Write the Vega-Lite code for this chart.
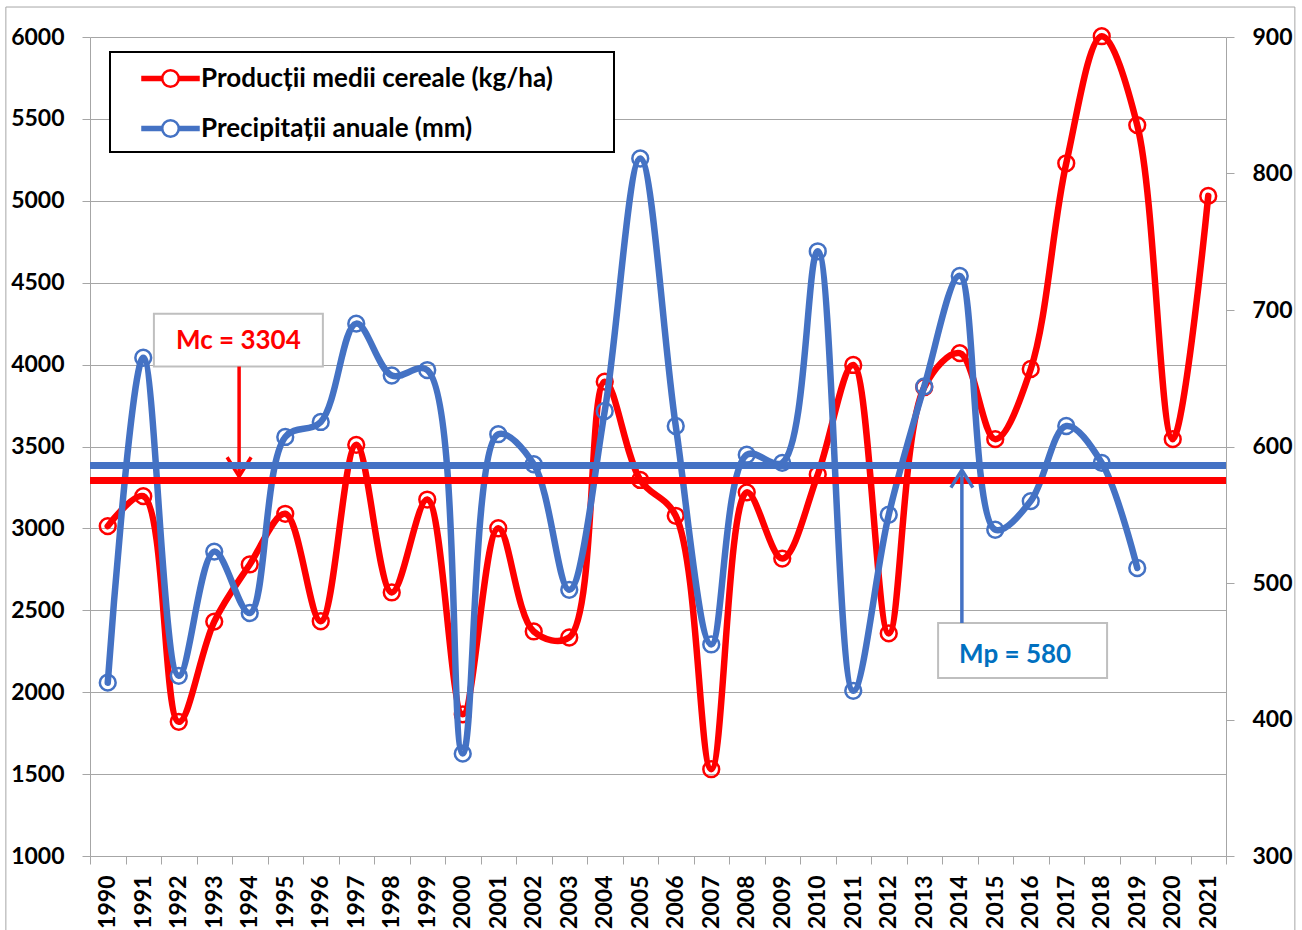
{
  "$schema": "https://vega.github.io/schema/vega-lite/v6.json",
  "width": 1136,
  "height": 819,
  "autosize": {"type": "none"},
  "padding": {"left": 90, "top": 37, "right": 76, "bottom": 74},
  "background": "white",
  "config": {
    "font": "Lato",
    "view": {"stroke": null},
    "axis": {
      "labelFont": "Lato",
      "labelFontWeight": "bold",
      "labelFontSize": 23,
      "labelColor": "black",
      "domainColor": "#a6a6a6",
      "tickColor": "#a6a6a6",
      "gridColor": "#a6a6a6",
      "tickSize": 8
    }
  },
  "datasets": {
    "production": [
      {"year": 1990, "series": "Producții medii cereale (kg/ha)", "value": 3014},
      {"year": 1991, "series": "Producții medii cereale (kg/ha)", "value": 3197},
      {"year": 1992, "series": "Producții medii cereale (kg/ha)", "value": 1819},
      {"year": 1993, "series": "Producții medii cereale (kg/ha)", "value": 2431},
      {"year": 1994, "series": "Producții medii cereale (kg/ha)", "value": 2780},
      {"year": 1995, "series": "Producții medii cereale (kg/ha)", "value": 3089},
      {"year": 1996, "series": "Producții medii cereale (kg/ha)", "value": 2433},
      {"year": 1997, "series": "Producții medii cereale (kg/ha)", "value": 3510},
      {"year": 1998, "series": "Producții medii cereale (kg/ha)", "value": 2609},
      {"year": 1999, "series": "Producții medii cereale (kg/ha)", "value": 3176},
      {"year": 2000, "series": "Producții medii cereale (kg/ha)", "value": 1865},
      {"year": 2001, "series": "Producții medii cereale (kg/ha)", "value": 3001},
      {"year": 2002, "series": "Producții medii cereale (kg/ha)", "value": 2371},
      {"year": 2003, "series": "Producții medii cereale (kg/ha)", "value": 2334},
      {"year": 2004, "series": "Producții medii cereale (kg/ha)", "value": 3896},
      {"year": 2005, "series": "Producții medii cereale (kg/ha)", "value": 3296},
      {"year": 2006, "series": "Producții medii cereale (kg/ha)", "value": 3077},
      {"year": 2007, "series": "Producții medii cereale (kg/ha)", "value": 1530},
      {"year": 2008, "series": "Producții medii cereale (kg/ha)", "value": 3220},
      {"year": 2009, "series": "Producții medii cereale (kg/ha)", "value": 2816},
      {"year": 2010, "series": "Producții medii cereale (kg/ha)", "value": 3329},
      {"year": 2011, "series": "Producții medii cereale (kg/ha)", "value": 3998},
      {"year": 2012, "series": "Producții medii cereale (kg/ha)", "value": 2359},
      {"year": 2013, "series": "Producții medii cereale (kg/ha)", "value": 3862},
      {"year": 2014, "series": "Producții medii cereale (kg/ha)", "value": 4070},
      {"year": 2015, "series": "Producții medii cereale (kg/ha)", "value": 3545},
      {"year": 2016, "series": "Producții medii cereale (kg/ha)", "value": 3973},
      {"year": 2017, "series": "Producții medii cereale (kg/ha)", "value": 5229},
      {"year": 2018, "series": "Producții medii cereale (kg/ha)", "value": 6005},
      {"year": 2019, "series": "Producții medii cereale (kg/ha)", "value": 5462},
      {"year": 2020, "series": "Producții medii cereale (kg/ha)", "value": 3545},
      {"year": 2021, "series": "Producții medii cereale (kg/ha)", "value": 5030}
    ],
    "precipitation": [
      {"year": 1990, "series": "Precipitații anuale (mm)", "value": 427},
      {"year": 1991, "series": "Precipitații anuale (mm)", "value": 665},
      {"year": 1992, "series": "Precipitații anuale (mm)", "value": 432},
      {"year": 1993, "series": "Precipitații anuale (mm)", "value": 523},
      {"year": 1994, "series": "Precipitații anuale (mm)", "value": 478},
      {"year": 1995, "series": "Precipitații anuale (mm)", "value": 607},
      {"year": 1996, "series": "Precipitații anuale (mm)", "value": 618},
      {"year": 1997, "series": "Precipitații anuale (mm)", "value": 690},
      {"year": 1998, "series": "Precipitații anuale (mm)", "value": 652},
      {"year": 1999, "series": "Precipitații anuale (mm)", "value": 656},
      {"year": 2000, "series": "Precipitații anuale (mm)", "value": 375},
      {"year": 2001, "series": "Precipitații anuale (mm)", "value": 609},
      {"year": 2002, "series": "Precipitații anuale (mm)", "value": 587},
      {"year": 2003, "series": "Precipitații anuale (mm)", "value": 495},
      {"year": 2004, "series": "Precipitații anuale (mm)", "value": 626},
      {"year": 2005, "series": "Precipitații anuale (mm)", "value": 811},
      {"year": 2006, "series": "Precipitații anuale (mm)", "value": 615},
      {"year": 2007, "series": "Precipitații anuale (mm)", "value": 455},
      {"year": 2008, "series": "Precipitații anuale (mm)", "value": 594},
      {"year": 2009, "series": "Precipitații anuale (mm)", "value": 588},
      {"year": 2010, "series": "Precipitații anuale (mm)", "value": 743},
      {"year": 2011, "series": "Precipitații anuale (mm)", "value": 421},
      {"year": 2012, "series": "Precipitații anuale (mm)", "value": 550},
      {"year": 2013, "series": "Precipitații anuale (mm)", "value": 644},
      {"year": 2014, "series": "Precipitații anuale (mm)", "value": 725},
      {"year": 2015, "series": "Precipitații anuale (mm)", "value": 539},
      {"year": 2016, "series": "Precipitații anuale (mm)", "value": 560},
      {"year": 2017, "series": "Precipitații anuale (mm)", "value": 615},
      {"year": 2018, "series": "Precipitații anuale (mm)", "value": 588},
      {"year": 2019, "series": "Precipitații anuale (mm)", "value": 511}
    ],
    "means": [
      {"key": "prod", "value": 3292},
      {"key": "prec", "value": 586}
    ],
    "notes": [
      {"key": "prod", "label": "Mc = 3304", "bx1": 1991.3, "bx2": 1996.06, "by1": 4311, "by2": 3988, "tx": 1993.68, "ty": 4146, "ax": 1993.7, "ay1": 3988, "ay2": 3317},
      {"key": "prec", "label": "Mp = 580", "bx1": 2013.39, "bx2": 2018.15, "by1": 470.7, "by2": 430.4, "tx": 2015.56, "ty": 447.3, "ax": 2014.06, "ay1": 470.7, "ay2": 582.8}
    ],
    "frame": [
      {"fx1": 1987.13, "fx2": 2023.44, "fy1": 6183, "fy2": 500}
    ]
  },
  "layer": [
    {
      "data": {"name": "frame"},
      "mark": {"type": "rect", "fill": null, "fillOpacity": 0, "stroke": "#a6a6a6", "strokeWidth": 1, "clip": false},
      "encoding": {
        "x": {
          "field": "fx1", "type": "quantitative",
          "scale": {"domain": [1989.5, 2021.5], "nice": false, "zero": false},
          "axis": {
            "orient": "bottom",
            "values": [1989.5, 1990.5, 1991.5, 1992.5, 1993.5, 1994.5, 1995.5, 1996.5, 1997.5, 1998.5, 1999.5, 2000.5, 2001.5, 2002.5, 2003.5, 2004.5, 2005.5, 2006.5, 2007.5, 2008.5, 2009.5, 2010.5, 2011.5, 2012.5, 2013.5, 2014.5, 2015.5, 2016.5, 2017.5, 2018.5, 2019.5, 2020.5, 2021.5],
            "tickCount": 60,
            "labelExpr": "datum.value < 2021 ? '' + (floor(datum.value) + 1) : ''",
            "labelAngle": -90,
            "labelOffset": 17.75,
            "labelPadding": 11,
            "labelOverlap": false,
            "labelFlush": false,
            "labelBound": false,
            "grid": false,
            "domain": true,
            "ticks": true,
            "tickSize": 8,
            "title": null,
            "zindex": 1
          }
        },
        "x2": {"field": "fx2"},
        "y": {"field": "fy1", "type": "quantitative", "scale": {"domain": [1000, 6000], "nice": false, "zero": false}, "axis": null},
        "y2": {"field": "fy2"}
      }
    },
    {
      "data": {"name": "production"},
      "encoding": {
        "x": {"field": "year", "type": "quantitative", "scale": {"domain": [1989.5, 2021.5], "nice": false, "zero": false}},
        "y": {
          "field": "value", "type": "quantitative",
          "scale": {"domain": [1000, 6000], "nice": false, "zero": false},
          "axis": {
            "orient": "left",
            "values": [1000, 1500, 2000, 2500, 3000, 3500, 4000, 4500, 5000, 5500, 6000],
            "grid": true,
            "gridWidth": 1,
            "labelPadding": 18,
            "tickSize": 8,
            "format": "d",
            "title": null
          }
        }
      },
      "layer": [
        {
          "mark": {"type": "line", "interpolate": "catmull-rom", "strokeWidth": 6.5, "strokeCap": "round", "strokeJoin": "round"},
          "encoding": {
            "color": {
              "field": "series", "type": "nominal",
              "scale": {"domain": ["Producții medii cereale (kg/ha)", "Precipitații anuale (mm)"], "range": ["#ff0000", "#4472c4"]},
              "legend": {
                "orient": "none",
                "legendX": 20,
                "legendY": 15,
                "title": null,
                "symbolType": "M-1.95,-0.1L-0.58,-0.1M-1.95,0L-0.58,0M-1.95,0.1L-0.58,0.1M0.58,-0.1L1.95,-0.1M0.58,0L1.95,0M0.58,0.1L1.95,0.1M0.55,0A0.55 0.55 0 1 1 -0.55,0A0.55 0.55 0 1 1 0.55,0",
                "symbolSize": 900,
                "symbolStrokeWidth": 2.5,
                "symbolOffset": 34,
                "labelFont": "Lato",
                "labelFontSize": 26,
                "labelFontWeight": "bold",
                "labelColor": "black",
                "labelOffset": 14,
                "labelLimit": 700,
                "labelExpr": "datum.label + '\u00a0\u00a0\u00a0\u00a0\u00a0\u00a0\u00a0\u00a0\u200b'",
                "padding": 10,
                "rowPadding": 20,
                "strokeColor": "black",
                "fillColor": "white",
                "encode": {
                  "legend": {"update": {"strokeWidth": {"value": 2}}},
                  "symbols": {"update": {"strokeWidth": {"value": 2.5}, "fill": {"value": "transparent"}, "opacity": {"value": 1}}}
                }
              }
            }
          }
        },
        {
          "mark": {"type": "point", "filled": false, "color": "#ff0000", "size": 250, "strokeWidth": 2.5, "opacity": 1}
        }
      ]
    },
    {
      "data": {"name": "precipitation"},
      "encoding": {
        "x": {"field": "year", "type": "quantitative", "scale": {"domain": [1989.5, 2021.5], "nice": false, "zero": false}},
        "y": {
          "field": "value", "type": "quantitative",
          "scale": {"domain": [300, 900], "nice": false, "zero": false},
          "axis": {
            "orient": "right",
            "values": [300, 400, 500, 600, 700, 800, 900],
            "grid": false,
            "labelPadding": 18,
            "tickSize": 8,
            "format": "d",
            "title": null
          }
        }
      },
      "layer": [
        {
          "mark": {"type": "line", "interpolate": "catmull-rom", "strokeWidth": 6.5, "strokeCap": "round", "strokeJoin": "round"},
          "encoding": {
            "color": {"field": "series", "type": "nominal", "legend": null}
          }
        },
        {
          "mark": {"type": "point", "filled": false, "color": "#4472c4", "size": 250, "strokeWidth": 2.5, "opacity": 1}
        }
      ]
    },
    {
      "layer": [
        {
          "data": {"name": "means"},
          "transform": [{"filter": "datum.key == 'prod'"}],
          "mark": {"type": "rule", "color": "#ff0000", "strokeWidth": 7},
          "encoding": {"y": {"field": "value", "type": "quantitative", "scale": {"domain": [1000, 6000], "nice": false, "zero": false}, "axis": null}}
        },
        {
          "data": {"name": "notes"},
          "transform": [{"filter": "datum.key == 'prod'"}],
          "layer": [
            {
              "mark": {"type": "rect", "fill": "white", "stroke": "#bfbfbf", "strokeWidth": 2},
              "encoding": {
                "x": {"field": "bx1", "type": "quantitative", "scale": {"domain": [1989.5, 2021.5], "nice": false, "zero": false}},
                "x2": {"field": "bx2"},
                "y": {"field": "by1", "type": "quantitative", "scale": {"domain": [1000, 6000], "nice": false, "zero": false}, "axis": null},
                "y2": {"field": "by2"}
              }
            },
            {
              "mark": {"type": "text", "color": "#ff0000", "font": "Lato", "fontSize": 26, "fontWeight": "bold", "align": "center", "baseline": "middle"},
              "encoding": {
                "x": {"field": "tx", "type": "quantitative", "scale": {"domain": [1989.5, 2021.5], "nice": false, "zero": false}},
                "y": {"field": "ty", "type": "quantitative", "scale": {"domain": [1000, 6000], "nice": false, "zero": false}, "axis": null},
                "text": {"field": "label"}
              }
            },
            {
              "mark": {"type": "rule", "color": "#ff0000", "strokeWidth": 3.5},
              "encoding": {
                "x": {"field": "ax", "type": "quantitative", "scale": {"domain": [1989.5, 2021.5], "nice": false, "zero": false}},
                "y": {"field": "ay1", "type": "quantitative", "scale": {"domain": [1000, 6000], "nice": false, "zero": false}, "axis": null},
                "y2": {"field": "ay2"}
              }
            },
            {
              "mark": {"type": "point", "shape": "M-1,-1.6L0,0L1,-1.6", "filled": false, "color": "#ff0000", "size": 576, "strokeWidth": 3.5, "opacity": 1},
              "encoding": {
                "x": {"field": "ax", "type": "quantitative", "scale": {"domain": [1989.5, 2021.5], "nice": false, "zero": false}},
                "y": {"field": "ay2", "type": "quantitative", "scale": {"domain": [1000, 6000], "nice": false, "zero": false}, "axis": null}
              }
            }
          ]
        }
      ]
    },
    {
      "layer": [
        {
          "data": {"name": "means"},
          "transform": [{"filter": "datum.key == 'prec'"}],
          "mark": {"type": "rule", "color": "#4472c4", "strokeWidth": 7},
          "encoding": {"y": {"field": "value", "type": "quantitative", "scale": {"domain": [300, 900], "nice": false, "zero": false}, "axis": null}}
        },
        {
          "data": {"name": "notes"},
          "transform": [{"filter": "datum.key == 'prec'"}],
          "layer": [
            {
              "mark": {"type": "rect", "fill": "white", "stroke": "#bfbfbf", "strokeWidth": 2},
              "encoding": {
                "x": {"field": "bx1", "type": "quantitative", "scale": {"domain": [1989.5, 2021.5], "nice": false, "zero": false}},
                "x2": {"field": "bx2"},
                "y": {"field": "by1", "type": "quantitative", "scale": {"domain": [300, 900], "nice": false, "zero": false}, "axis": null},
                "y2": {"field": "by2"}
              }
            },
            {
              "mark": {"type": "text", "color": "#0070c0", "font": "Lato", "fontSize": 26, "fontWeight": "bold", "align": "center", "baseline": "middle"},
              "encoding": {
                "x": {"field": "tx", "type": "quantitative", "scale": {"domain": [1989.5, 2021.5], "nice": false, "zero": false}},
                "y": {"field": "ty", "type": "quantitative", "scale": {"domain": [300, 900], "nice": false, "zero": false}, "axis": null},
                "text": {"field": "label"}
              }
            },
            {
              "mark": {"type": "rule", "color": "#4472c4", "strokeWidth": 3.5},
              "encoding": {
                "x": {"field": "ax", "type": "quantitative", "scale": {"domain": [1989.5, 2021.5], "nice": false, "zero": false}},
                "y": {"field": "ay1", "type": "quantitative", "scale": {"domain": [300, 900], "nice": false, "zero": false}, "axis": null},
                "y2": {"field": "ay2"}
              }
            },
            {
              "mark": {"type": "point", "shape": "M-1,1.6L0,0L1,1.6", "filled": false, "color": "#4472c4", "size": 484, "strokeWidth": 3.5, "opacity": 1},
              "encoding": {
                "x": {"field": "ax", "type": "quantitative", "scale": {"domain": [1989.5, 2021.5], "nice": false, "zero": false}},
                "y": {"field": "ay2", "type": "quantitative", "scale": {"domain": [300, 900], "nice": false, "zero": false}, "axis": null}
              }
            }
          ]
        }
      ]
    }
  ],
  "resolve": {"scale": {"y": "independent"}}
}
